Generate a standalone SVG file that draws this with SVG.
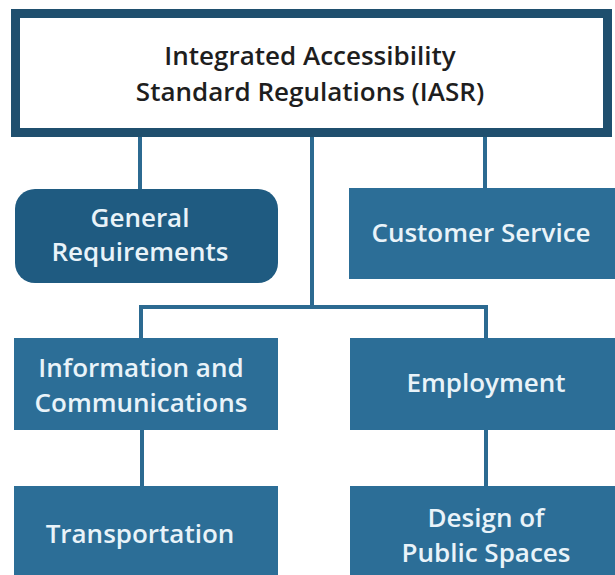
<svg xmlns="http://www.w3.org/2000/svg" width="615" height="575" viewBox="0 0 615 575">
<style>
  .box { fill: #2c6e97; }
  .gen { fill: #1f5b81; }
  .lbl { font-family: "Open Sans", "Liberation Sans", sans-serif; font-weight: 600; font-size: 26px; fill: #e9f3f9; text-anchor: middle; }
  .ttl { font-family: "Open Sans", "Liberation Sans", sans-serif; font-weight: 600; font-size: 26px; fill: #1e1e1e; text-anchor: middle; }
  .ln { stroke: #2c6a91; stroke-width: 4; fill: none; }
</style>
<rect width="615" height="575" fill="#ffffff"/>
<g id="connectors">
  <line class="ln" x1="140" y1="136" x2="140" y2="190"/>
  <line class="ln" x1="485" y1="136" x2="485" y2="189"/>
  <line class="ln" x1="312" y1="136" x2="312" y2="307"/>
  <polyline class="ln" points="141,339 141,307 486,307 486,339"/>
  <line class="ln" x1="142" y1="430" x2="142" y2="487"/>
  <line class="ln" x1="486" y1="430" x2="486" y2="487"/>
</g>
<g id="iasr">
  <rect x="15.5" y="13.5" width="592" height="119" fill="#ffffff" stroke="#1f4f6e" stroke-width="9"/>
  <text class="ttl" x="310" y="65">Integrated Accessibility</text>
  <text class="ttl" x="310" y="101">Standard Regulations (IASR)</text>
</g>
<g id="general">
  <rect class="gen" x="15" y="189" width="263" height="94" rx="20"/>
  <text class="lbl" x="140" y="227">General</text>
  <text class="lbl" x="140" y="261">Requirements</text>
</g>
<g id="customer">
  <rect class="box" x="349" y="188" width="266" height="91"/>
  <text class="lbl" x="481" y="242">Customer Service</text>
</g>
<g id="info">
  <rect class="box" x="14" y="338" width="264" height="92"/>
  <text class="lbl" x="141" y="377">Information and</text>
  <text class="lbl" x="141" y="412">Communications</text>
</g>
<g id="employment">
  <rect class="box" x="350" y="338" width="265" height="92"/>
  <text class="lbl" x="486" y="392">Employment</text>
</g>
<g id="transportation">
  <rect class="box" x="14" y="486" width="264" height="89"/>
  <text class="lbl" x="140" y="543">Transportation</text>
</g>
<g id="design">
  <rect class="box" x="350" y="486" width="265" height="89"/>
  <text class="lbl" x="486" y="527">Design of</text>
  <text class="lbl" x="486" y="562">Public Spaces</text>
</g>
</svg>
